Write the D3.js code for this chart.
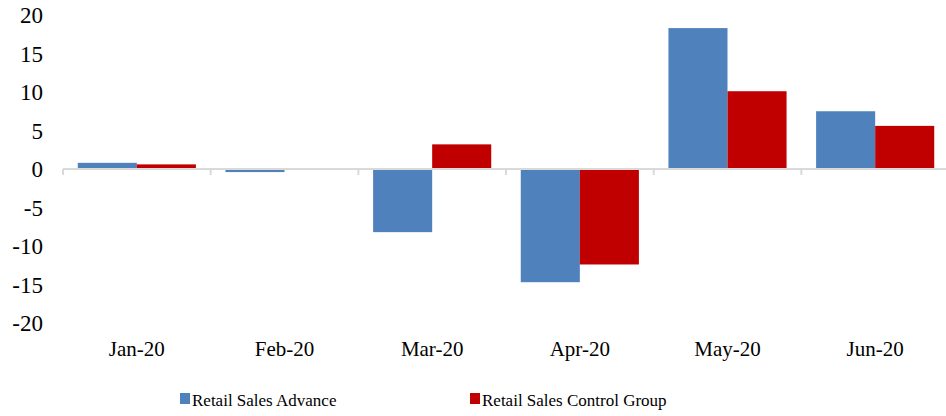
<!DOCTYPE html>
<html>
<head>
<meta charset="utf-8">
<script src="https://cdn.jsdelivr.net/npm/d3@7"></script>
<style>
  body { margin: 0; background: #fff; }
</style>
</head>
<body>
<svg id="chart" width="946" height="416"></svg>
<script>
// data
var months = ['Jan-20', 'Feb-20', 'Mar-20', 'Apr-20', 'May-20', 'Jun-20'];
var seriesNames = ['Retail Sales Advance', 'Retail Sales Control Group'];
var advance = [0.8, -0.4, -8.2, -14.7, 18.3, 7.5];
var control = [0.6, 0.0, 3.2, -12.4, 10.1, 5.6];
var yTicks = [20, 15, 10, 5, 0, -5, -10, -15, -20];
var colors = ['#4f81bd', '#c00000'];
var serif = '"Liberation Serif", "Times New Roman", serif';

var svg = d3.select('#chart');

var x = d3.scaleBand().domain(months).range([63, 949]).padding(0);
var xs = d3.scaleBand().domain(seriesNames).range([0, x.bandwidth()])
           .paddingInner(0).paddingOuter(0.25);
var y = d3.scaleLinear().domain([-20, 20]).range([323, 15]);

// y labels (no axis line)
svg.append('g').selectAll('text')
   .data(yTicks)
   .enter().append('text')
   .attr('x', 43)
   .attr('y', function(d){ return y(d); })
   .attr('dy', '0.35em')
   .attr('text-anchor', 'end')
   .attr('font-family', serif)
   .attr('font-size', 23)
   .text(function(d){ return d; });

// bars
var rows = months.map(function(m, i){
    return [
        {month: m, s: seriesNames[0], v: advance[i], c: colors[0]},
        {month: m, s: seriesNames[1], v: control[i], c: colors[1]}
    ];
});
var bars = [].concat.apply([], rows);
svg.append('g').selectAll('rect')
   .data(bars)
   .enter().append('rect')
   .attr('x', function(d){ return x(d.month) + xs(d.s); })
   .attr('width', xs.bandwidth())
   .attr('y', function(d){ return y(Math.max(0, d.v)); })
   .attr('height', function(d){ return Math.abs(y(d.v) - y(0)); })
   .attr('fill', function(d){ return d.c; });

// category axis along zero
var axisG = svg.append('g').attr('transform', 'translate(0,' + y(0) + ')');
axisG.append('line')
     .attr('x1', 63).attr('x2', 946)
     .attr('stroke', '#d9d9d9').attr('stroke-width', 2);
var bounds = months.map(function(m){ return x(m); }).concat([x.range()[1]]);
axisG.selectAll('line.tick')
     .data(bounds)
     .enter().append('line')
     .attr('class', 'tick')
     .attr('x1', function(d){ return d; }).attr('x2', function(d){ return d; })
     .attr('y1', 0).attr('y2', 6)
     .attr('stroke', '#d9d9d9').attr('stroke-width', 2);

// month labels below the plot
svg.append('g').selectAll('text')
   .data(months)
   .enter().append('text')
   .attr('x', function(d){ return x(d) + x.bandwidth() / 2; })
   .attr('y', 356)
   .attr('text-anchor', 'middle')
   .attr('font-family', serif)
   .attr('font-size', 21)
   .text(function(d){ return d; });

// legend
var legendX = [180, 470];
var lg = svg.append('g').selectAll('g')
   .data(seriesNames)
   .enter().append('g')
   .attr('transform', function(d, i){ return 'translate(' + legendX[i] + ',393)'; });
lg.append('rect').attr('width', 10).attr('height', 11)
  .attr('fill', function(d, i){ return colors[i]; });
lg.append('text').attr('x', 12).attr('y', 13)
  .attr('font-family', serif)
  .attr('font-size', 17)
  .text(function(d){ return d; });
</script>
</body>
</html>
